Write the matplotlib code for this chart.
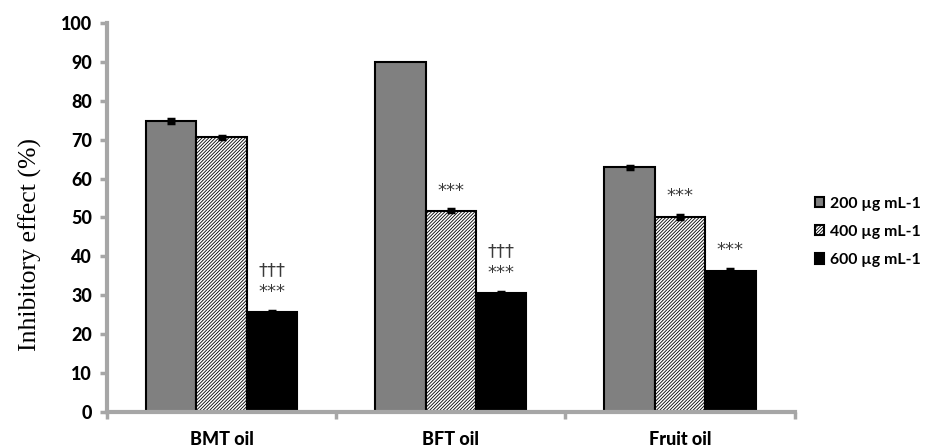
import numpy as np
import matplotlib.pyplot as plt
from matplotlib.ticker import FixedLocator, NullFormatter

categories = ["BMT oil", "BFT oil", "Fruit oil"]
doses = ["200 µg mL-1", "400 µg mL-1", "600 µg mL-1"]
dose_200 = [74.7, 90.0, 62.9]
dose_400 = [70.6, 51.7, 50.2]
dose_600 = [25.7, 30.6, 36.3]
err_200 = [0.5, np.nan, 0.4]
err_400 = [0.4, 0.4, 0.5]
err_600 = [0.3, 0.3, 0.5]
# significance marks: (category index, dose index, text)
marks = [(0, 2, "†††\n***"), (1, 1, "***"), (1, 2, "†††\n***"), (2, 1, "***"), (2, 2, "***")]

plt.rcParams["hatch.linewidth"] = 0.6
fig = plt.figure(figsize=(9.25, 4.48), dpi=100)
ax = fig.add_axes([0.1157, 0.0804, 0.7433, 0.8686])

x = np.arange(len(categories))
w = 0.22
styles = [dict(color="#808080"), dict(color="white", hatch="/" * 10), dict(color="black")]
values = [dose_200, dose_400, dose_600]
errors = [err_200, err_400, err_600]
for i, (vals, errs, st) in enumerate(zip(values, errors, styles)):
    ax.bar(x + (i - 1) * w, vals, w, yerr=errs, edgecolor="black", linewidth=1.5,
           error_kw=dict(ecolor="black", elinewidth=1.2, capsize=3, capthick=2.5),
           label=doses[i], zorder=2, **st)

for ci, di, txt in marks:
    v = values[di][ci] + np.nan_to_num(errors[di][ci])
    ax.text(x[ci] + (di - 1) * w, v + 2.5, txt, ha="center", va="bottom",
            fontsize=13, color="#3a3a3a", linespacing=1.25)

ax.set_xlim(-0.5, 2.5)
ax.set_ylim(0, 100)
ax.set_yticks(range(0, 101, 10))
ax.set_xticks(x)
ax.set_xticklabels(categories)
ax.xaxis.set_minor_locator(FixedLocator([-0.5, 0.5, 1.5, 2.5]))
ax.xaxis.set_minor_formatter(NullFormatter())
ax.tick_params(axis="x", which="major", length=0, pad=14)
ax.tick_params(axis="x", which="minor", length=5, width=2.5, color="#A6A6A6")
ax.tick_params(axis="y", length=5, width=2.5, color="#A6A6A6", pad=6)
for lbl in ax.get_xticklabels() + ax.get_yticklabels():
    lbl.set_fontfamily("Lato")
    lbl.set_fontweight("black")
    lbl.set_fontsize(13)

for s in ["top", "right"]:
    ax.spines[s].set_visible(False)
for s in ["left", "bottom"]:
    ax.spines[s].set_color("#A6A6A6")
    ax.spines[s].set_linewidth(3)

ax.set_ylabel("Inhibitory effect (%)", fontfamily="Liberation Serif", fontsize=18.5)
ax.yaxis.set_label_coords(-0.094, 0.43)

leg = ax.legend(loc="center left", bbox_to_anchor=(1.029, 0.463), frameon=False,
                borderaxespad=0, borderpad=0,
                prop=dict(family="Lato", weight="bold", size=11.4),
                handlelength=0.6, handleheight=0.6, handletextpad=0.35, labelspacing=0.9)

fig.savefig("out.png", dpi=100)
